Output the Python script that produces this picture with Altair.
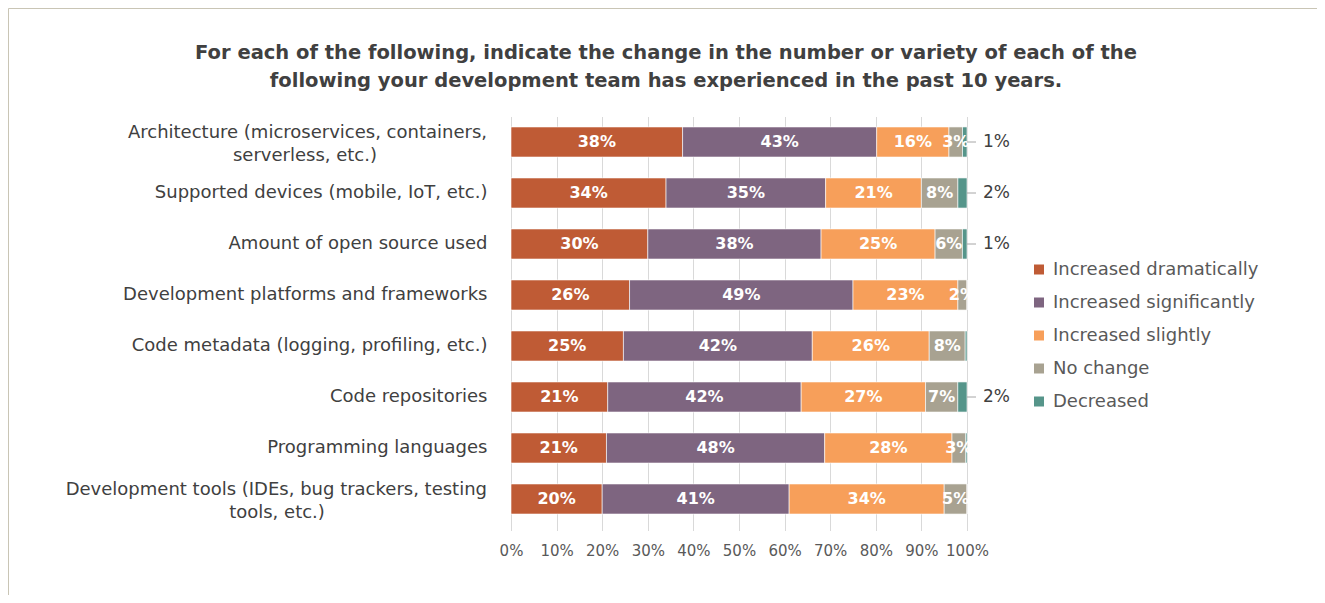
import altair as alt
import pandas as pd

categories = [
    "Architecture (microservices, containers, serverless, etc.)",
    "Supported devices (mobile, IoT, etc.)",
    "Amount of open source used",
    "Development platforms and frameworks",
    "Code metadata (logging, profiling, etc.)",
    "Code repositories",
    "Programming languages",
    "Development tools (IDEs, bug trackers, testing tools, etc.)",
]
series = [
    "Increased dramatically",
    "Increased significantly",
    "Increased slightly",
    "No change",
    "Decreased",
]
increased_dramatically = [38, 34, 30, 26, 25, 21, 21, 20]
increased_significantly = [43, 35, 38, 49, 42, 42, 48, 41]
increased_slightly = [16, 21, 25, 23, 26, 27, 28, 34]
no_change = [3, 8, 6, 2, 8, 7, 3, 5]
decreased = [1, 2, 1, 0, 0.4, 2, 0.3, 0]
colors = ["#BF5B35", "#7E6580", "#F79F5A", "#A8A291", "#56958A"]

# label wrapping of the two long category names
wrapped = [categories[0], categories[7]]
first_lines = ["Architecture (microservices, containers,", "Development tools (IDEs, bug trackers, testing"]
second_lines = ["serverless, etc.)", "tools, etc.)"]
# horizontal centre of each second line (pixels from the plot's left edge)
second_line_x = [-206, -234]

all_values = [increased_dramatically, increased_significantly, increased_slightly, no_change, decreased]
rows = []
for si, (s, vals) in enumerate(zip(series, all_values)):
    for c, v in zip(categories, vals):
        rows.append({"category": c, "series": s, "order": si, "value": v})
df = pd.DataFrame(rows)

label_expr = "indexof(" + repr(wrapped).replace('"', "'") + ", datum.label) >= 0 ? '' : datum.label"

FONT = "DejaVu Sans"
CAT_SIZE = 18
CAT_COLOR = "#404040"

y_enc = alt.Y(
    "category:N",
    sort=categories,
    title=None,
    scale=alt.Scale(paddingInner=0.41, paddingOuter=0.205),
    axis=alt.Axis(
        labelExpr=label_expr,
        labelFont=FONT,
        labelFontSize=CAT_SIZE,
        labelColor=CAT_COLOR,
        labelPadding=24,
        labelLimit=600,
        ticks=False,
        tickSize=0,
        domain=False,
        grid=False,
    ),
)
x_scale = alt.Scale(domain=[0, 1])
x_axis = alt.Axis(
    values=[i / 10 for i in range(11)],
    format=".0%",
    title=None,
    labelFont=FONT,
    labelFontSize=15,
    labelColor="#595959",
    labelPadding=13,
    labelOverlap=False,
    labelFlush=False,
    grid=True,
    gridColor="#d9d9d9",
    gridWidth=1,
    domain=False,
    ticks=True,
    tickColor="#d9d9d9",
    tickSize=6,
)

base = (
    alt.Chart(df)
    .transform_stack(
        stack="value",
        groupby=["category"],
        as_=["s0", "s1"],
        offset="normalize",
        sort=[alt.SortField("order", order="ascending")],
    )
    .transform_calculate(mid="(datum.s0 + datum.s1) / 2")
)

bars = base.mark_bar(stroke="white", strokeWidth=0.6).encode(
    y=y_enc,
    x=alt.X("s0:Q", scale=x_scale, axis=x_axis),
    x2="s1:Q",
    color=alt.Color(
        "series:N",
        scale=alt.Scale(domain=series, range=colors),
        legend=alt.Legend(
            title=None,
            orient="none",
            legendX=519,
            legendY=144,
            symbolType="square",
            symbolSize=100,
            symbolStrokeWidth=0,
            labelFont=FONT,
            labelFontSize=18,
            labelColor="#595959",
            labelOffset=5,
            rowPadding=15,
            labelLimit=400,
        ),
    ),
)

inner_labels = (
    base.transform_filter("datum.series != 'Decreased'")
    .transform_calculate(label="datum.value + '%'")
    .mark_text(font=FONT, fontSize=16, fontWeight="bold", color="white")
    .encode(
        y=y_enc,
        x=alt.X("mid:Q", scale=x_scale, axis=x_axis),
        text=alt.Text("label:N"),
    )
)

outer_filter = "datum.series == 'Decreased' && datum.value >= 1"
leader = (
    base.transform_filter(outer_filter)
    .mark_rule(color="#a6a6a6", strokeWidth=1)
    .encode(
        y=y_enc,
        x=alt.X("s1:Q", scale=x_scale, axis=x_axis),
        x2=alt.value(465),
    )
)
outer_labels = (
    base.transform_filter(outer_filter)
    .transform_calculate(label="datum.value + '%'")
    .mark_text(font=FONT, fontSize=17, color="#404040", align="left")
    .encode(
        y=y_enc,
        x=alt.value(472),
        text=alt.Text("label:N"),
    )
)

wrap_df = pd.DataFrame({"category": wrapped, "line1": first_lines, "line2": second_lines})
line1_layer = (
    alt.Chart(wrap_df)
    .mark_text(font=FONT, fontSize=CAT_SIZE, color=CAT_COLOR, align="right",
               baseline="middle", dy=-9)
    .encode(y=y_enc, x=alt.value(-24), text="line1:N")
)
line2_layers = []
for cat, xpos in zip(wrapped, second_line_x):
    line2_layers.append(
        alt.Chart(wrap_df)
        .transform_filter(alt.datum.category == cat)
        .mark_text(font=FONT, fontSize=CAT_SIZE, color=CAT_COLOR, align="center",
                   baseline="middle", dy=14)
        .encode(y=y_enc, x=alt.value(xpos), text="line2:N")
    )

frame_df = pd.DataFrame({"k": [0]})
frame_top = alt.Chart(frame_df).mark_rule(color="#c9c5b5", strokeWidth=1).encode(
    x=alt.value(-502.5), x2=alt.value(830), y=alt.value(-108)
)
frame_left = alt.Chart(frame_df).mark_rule(color="#c9c5b5", strokeWidth=1).encode(
    x=alt.value(-502.5), y=alt.value(-108), y2=alt.value(500)
)

chart = (
    alt.layer(bars, inner_labels, leader, outer_labels, line1_layer, *line2_layers,
              frame_top, frame_left)
    .properties(
        width=456,
        height=408,
        autosize="none",
        padding={"left": 503, "top": 108.5, "right": 350, "bottom": 70},
        background="white",
        title=alt.TitleParams(
            text=[
                "For each of the following, indicate the change in the number or variety of each of the",
                "following your development team has experienced in the past 10 years.",
            ],
            font=FONT,
            fontSize=19.5,
            fontWeight="bold",
            color="#404040",
            lineHeight=28,
            anchor="middle",
            dx=-73,
            offset=-83,
        ),
    )
    .configure_view(stroke=None)
)

chart.save("out.html", embed_options={"renderer": "svg", "actions": False})
